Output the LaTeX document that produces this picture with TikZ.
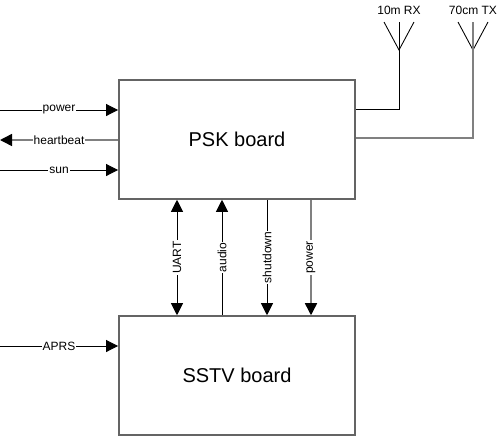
\documentclass[tikz,border=0pt]{standalone}
\usepackage{fontspec}
\setmainfont{Liberation Sans}
\usetikzlibrary{arrows.meta}
\definecolor{lg}{RGB}{128,128,128}
\definecolor{bd}{RGB}{100,100,100}
\begin{document}
\begin{tikzpicture}[x=0.75pt,y=-0.75pt,
  board/.style={draw=bd,line width=1.4pt,minimum width=177pt,minimum height=89pt,inner sep=0pt,font=\fontsize{15}{18}\selectfont},
  tipend/.style={-{Triangle[length=9pt,width=9pt,color=black]}},
  tipstart/.style={{Triangle[length=9pt,width=9pt,color=black]}-},
  tipboth/.style={{Triangle[length=9pt,width=9pt,color=black]}-{Triangle[length=9pt,width=9pt,color=black]}},
  lbl/.style={fill=white,inner sep=0.8pt,font=\fontsize{9}{10}\selectfont},
  alabel/.style={inner sep=0pt,font=\fontsize{9}{10}\selectfont},
  wire/.style={line width=0.65pt,black},
  gwire/.style={line width=1.1pt,lg}]
\useasboundingbox (0,0) rectangle (500,436);

\node[board] (psk) at (237,139.5) {PSK board};
\node[board] (sstv) at (237,375.5) {SSTV board};

% left inputs
\coordinate (pw) at (0,110);
\coordinate (hb) at (0,140);
\coordinate (sn) at (0,170);
\coordinate (ap) at (0,346);
\draw[wire,tipend] (pw) -- node[lbl]{power} (pw -| psk.west);
\draw[gwire,tipstart] (hb) -- node[lbl,text=black]{heartbeat} (hb -| psk.west);
\draw[wire,tipend] (sn) -- node[lbl]{sun} (sn -| psk.west);
\draw[wire,tipend] (ap) -- node[lbl]{APRS} (ap -| sstv.west);

% vertical links
\coordinate (u) at (177,0);
\coordinate (au) at (222,0);
\coordinate (sd) at (267,0);
\coordinate (pv) at (311,0);
\draw[wire,tipboth] (u |- psk.south) -- node[lbl,rotate=90]{UART} (u |- sstv.north);
\draw[wire,tipstart] (au |- psk.south) -- node[lbl,rotate=90]{audio} (au |- sstv.north);
\draw[wire,tipend] (sd |- psk.south) -- node[lbl,rotate=90]{shutdown} (sd |- sstv.north);
\draw[gwire,tipend] (pv |- psk.south) -- node[lbl,rotate=90,text=black]{power} (pv |- sstv.north);

% antennas
\coordinate (rxj) at (399,50);
\coordinate (txj) at (473,50);
\draw[wire] (384,22) -- (rxj) -- (414,22);
\draw[wire] (399,22) -- (rxj);
\draw[wire] (rxj) -- (399,109) -- (psk.east |- 0,109);
\draw[wire] (458,22) -- (txj) -- (488,22);
\draw[gwire] (473,22) -- (txj);
\draw[gwire] (txj) -- (473,138) -- (psk.east |- 0,138);
\node[alabel] (rxl) at (399,10) {10m RX};
\node[alabel] (txl) at (473,10) {70cm TX};
\end{tikzpicture}
\end{document}
